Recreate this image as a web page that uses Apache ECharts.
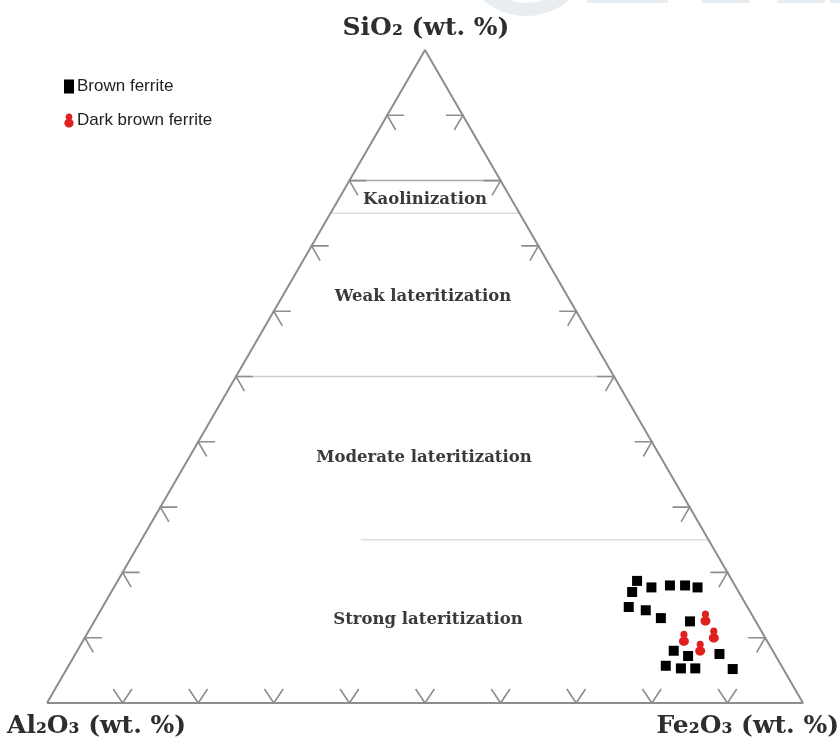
<!DOCTYPE html>
<html>
<head>
<meta charset="utf-8">
<script src="https://cdn.jsdelivr.net/npm/echarts@6/dist/echarts.min.js"></script>
<style>
  html, body { margin: 0; padding: 0; background: #ffffff; }
  #chart { width: 840px; height: 747px; }
</style>
</head>
<body>
<div id="chart"></div>
<script>
// Sample compositions, wt. % (each row of the three arrays sums to 100)
const brownSiO2  = [18.7, 17.0, 17.7, 18.0, 18.0, 17.7, 14.7, 14.2, 13.0, 12.5, 8.0, 7.2, 7.5, 5.7, 5.3, 5.3, 5.2];
const brownAl2O3 = [12.6, 14.1, 11.2, 8.6, 6.6, 5.1, 15.7, 13.7, 12.3, 8.7, 13.1, 11.6, 7.3, 15.3, 13.5, 11.6, 6.7];
const brownFe2O3 = [68.7, 68.9, 71.1, 73.4, 75.4, 77.2, 69.6, 72.1, 74.7, 78.8, 78.9, 81.2, 85.2, 79.0, 81.2, 83.1, 88.1];

const darkSiO2  = [13.0, 10.4, 9.9, 8.4];
const darkAl2O3 = [6.4, 6.6, 10.8, 9.4];
const darkFe2O3 = [80.6, 83.0, 79.3, 82.2];

// Weathering zones and the SiO2 levels that divide them
const zoneNames = ['Kaolinization', 'Weak lateritization', 'Moderate lateritization', 'Strong lateritization'];
const zoneBoundsSiO2 = [80, 75, 50, 25];
const zoneBoundStartFe2O3 = [0, 0, 0, 29]; // lowest divide begins inside the triangle
const tickLevels = [10, 20, 30, 40, 50, 60, 70, 80, 90];

const axisNames = ['SiO₂ (wt. %)', 'Al₂O₃ (wt. %)', 'Fe₂O₃ (wt. %)'];
const seriesNames = ['Brown ferrite', 'Dark brown ferrite'];

// Ternary (SiO2 apex, Al2O3 left, Fe2O3 right) -> cartesian in a 100-wide equilateral frame
const H = Math.sqrt(3) / 2;
function toXY(si, al, fe) {
  const t = si + al + fe;
  return [(fe + si / 2) / t * 100, si / t * 100 * H];
}

const brownPts = brownSiO2.map((s, i) => toXY(s, brownAl2O3[i], brownFe2O3[i]));
const darkPts = darkSiO2.map((s, i) => toXY(s, darkAl2O3[i], darkFe2O3[i]));

const outline = [toXY(0, 100, 0), toXY(0, 0, 100), toXY(100, 0, 0), toXY(0, 100, 0)];

// Tick anchors: 0 = left edge, 1 = right edge, 2 = base
const ticks = [];
tickLevels.forEach(v => {
  ticks.push(toXY(v, 100 - v, 0).concat(0));
  ticks.push(toXY(v, 0, 100 - v).concat(1));
  ticks.push(toXY(0, 100 - v, v).concat(2));
});

// Zone divides: [x1, y1, x2, y2, style]
const divideColors = ['#a9a9a9', '#dcdcdc', '#cfcfcf', '#dedede'];
const divides = zoneBoundsSiO2.map((s, i) => {
  const fe0 = zoneBoundStartFe2O3[i];
  return toXY(s, 100 - s - fe0, fe0).concat(toXY(s, 0, 100 - s), i);
});

const EDGE = '#8d8d8d';

function renderTick(params, api) {
  const p = api.coord([api.value(0), api.value(1)]);
  const side = api.value(2);
  const L = 17;
  let a, b;
  if (side === 0) { a = [p[0] + L, p[1]]; b = [p[0] + L * 0.5, p[1] + L * H]; }
  else if (side === 1) { a = [p[0] - L, p[1]]; b = [p[0] - L * 0.5, p[1] + L * H]; }
  else { a = [p[0] - L * 0.55, p[1] - L * 0.82]; b = [p[0] + L * 0.55, p[1] - L * 0.82]; }
  return {
    type: 'polyline',
    shape: { points: [a, p, b] },
    style: { stroke: EDGE, lineWidth: 1.6, fill: null }
  };
}

function renderDivide(params, api) {
  const p1 = api.coord([api.value(0), api.value(1)]);
  const p2 = api.coord([api.value(2), api.value(3)]);
  return {
    type: 'line',
    shape: { x1: p1[0], y1: p1[1], x2: p2[0], y2: p2[1] },
    style: { stroke: divideColors[api.value(4)], lineWidth: 1.5 }
  };
}

// Two-lobed marker: round head over a wider body
const dropPath = 'path://M5,0 C7.2,0 8.6,1.7 8.6,3.8 C8.6,4.9 8.2,5.8 7.6,6.4 C9,7.1 10,8.6 10,10.4 C10,12.8 7.8,15 5,15 C2.2,15 0,12.8 0,10.4 C0,8.6 1,7.1 2.4,6.4 C1.8,5.8 1.4,4.9 1.4,3.8 C1.4,1.7 2.8,0 5,0 Z';

function titleText(text) {
  return { text: text, fontFamily: 'DejaVu Serif', fontWeight: 'bold', fontSize: 25, fill: '#2e2e2e' };
}
function zoneText(text) {
  return { text: text, fontFamily: 'DejaVu Serif', fontWeight: 'bold', fontSize: 16.5, fill: '#3a3a3a', align: 'center', verticalAlign: 'middle' };
}
const wm = '#e7edf1';

const chart = echarts.init(document.getElementById('chart'), null, { renderer: 'canvas' });
chart.setOption({
  backgroundColor: '#ffffff',
  animation: false,
  grid: { left: 47, right: 37, top: 50, bottom: 44 },
  xAxis: { type: 'value', min: 0, max: 100, show: false },
  yAxis: { type: 'value', min: 0, max: 100 * H, show: false },
  legend: {
    orient: 'vertical',
    left: 64,
    top: 78,
    padding: 0,
    itemWidth: 10,
    itemHeight: 14,
    itemGap: 17,
    textStyle: { fontFamily: 'Liberation Sans', fontSize: 17, color: '#222222', padding: [0, 0, 0, -2] },
    data: [
      { name: seriesNames[0], icon: 'rect' },
      { name: seriesNames[1], icon: dropPath }
    ]
  },
  graphic: [
    { type: 'ring', silent: true, shape: { cx: 526, cy: -50, r: 66, r0: 53 }, style: { fill: wm } },
    { type: 'rect', silent: true, shape: { x: 587, y: 0, width: 81, height: 3 }, style: { fill: wm } },
    { type: 'rect', silent: true, shape: { x: 702, y: 0, width: 48, height: 3 }, style: { fill: wm } },
    { type: 'rect', silent: true, shape: { x: 777, y: 0, width: 48, height: 3 }, style: { fill: wm } },
    { type: 'rect', silent: true, shape: { x: 830, y: 0, width: 10, height: 3 }, style: { fill: wm } },
    { type: 'text', x: 426, y: 28, style: Object.assign(titleText(axisNames[0]), { align: 'center', verticalAlign: 'middle' }) },
    { type: 'text', x: 7, y: 726, style: Object.assign(titleText(axisNames[1]), { align: 'left', verticalAlign: 'middle' }) },
    { type: 'text', x: 839, y: 726, style: Object.assign(titleText(axisNames[2]), { align: 'right', verticalAlign: 'middle' }) },
    { type: 'text', x: 425, y: 200, style: zoneText(zoneNames[0]) },
    { type: 'text', x: 423, y: 297, style: zoneText(zoneNames[1]) },
    { type: 'text', x: 424, y: 458, style: zoneText(zoneNames[2]) },
    { type: 'text', x: 428, y: 620, style: zoneText(zoneNames[3]) }
  ],
  series: [
    {
      type: 'custom', silent: true, data: divides, renderItem: renderDivide, z: 1
    },
    {
      type: 'line', silent: true, data: outline, symbol: 'none',
      lineStyle: { color: EDGE, width: 2 }, z: 2
    },
    {
      type: 'custom', silent: true, data: ticks, renderItem: renderTick, z: 2
    },
    {
      name: seriesNames[0], type: 'scatter', data: brownPts,
      symbol: 'rect', symbolSize: 10, itemStyle: { color: '#000000', opacity: 1 }, z: 5
    },
    {
      name: seriesNames[1], type: 'scatter', data: darkPts,
      symbol: dropPath, symbolSize: [10, 15], itemStyle: { color: '#e0201e', opacity: 1 }, z: 6
    }
  ]
});
</script>
</body>
</html>
